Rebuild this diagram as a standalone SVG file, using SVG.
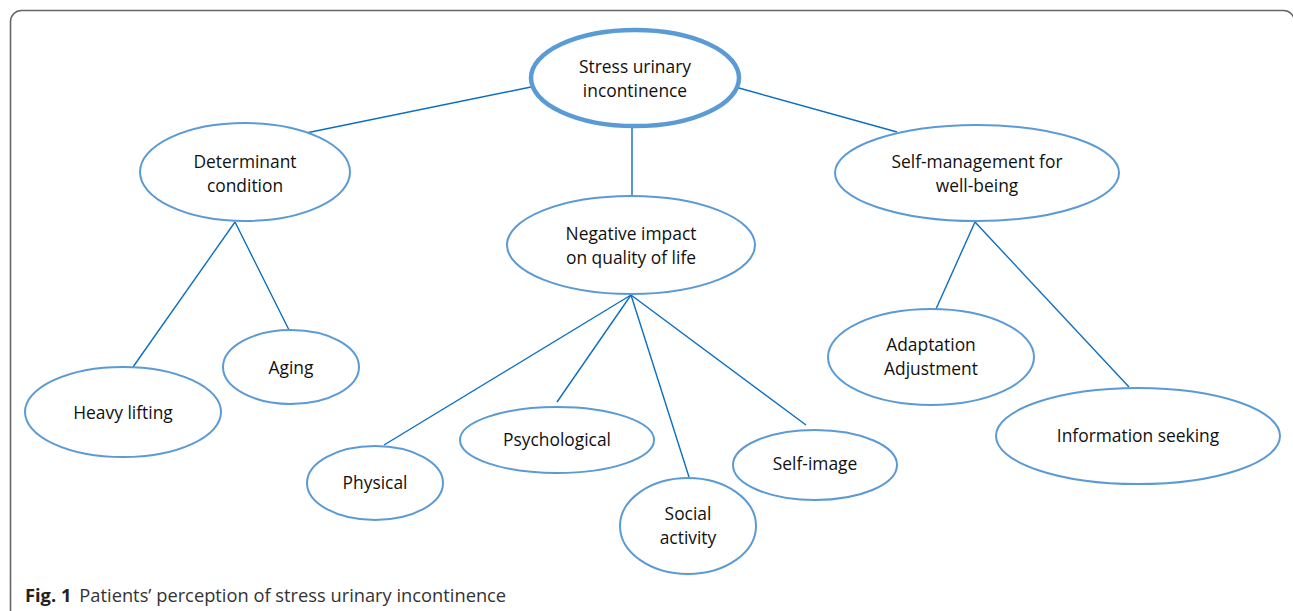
<svg xmlns="http://www.w3.org/2000/svg" width="1293" height="611" viewBox="0 0 1293 611">
<style>
.n{fill:#fff;stroke:#5b9bd5;stroke-width:2}
.root{fill:#fff;stroke:#5b9bd5;stroke-width:4.5}
.t{font-family:"Open Sans","Liberation Sans",sans-serif;font-size:17.4px;fill:#111;text-anchor:middle}
.c line{stroke:#0a6fc2;stroke-width:1.4}
.cap{font-family:"Open Sans","Liberation Sans",sans-serif;font-size:18.3px;fill:#333}
</style>
<rect x="10.5" y="10.5" width="1284" height="700" rx="11" fill="#fff" stroke="#666" stroke-width="1.6"/>
<g class="c" id="connectors">
<line x1="531" y1="87" x2="306" y2="133"/>
<line x1="632" y1="127" x2="632" y2="196"/>
<line x1="739" y1="88" x2="897" y2="132"/>
<line x1="235" y1="222" x2="133" y2="367"/>
<line x1="235" y1="222" x2="289" y2="330"/>
<line x1="631" y1="295" x2="384" y2="445"/>
<line x1="631" y1="295" x2="557" y2="402"/>
<line x1="631" y1="295" x2="689" y2="477"/>
<line x1="631" y1="295" x2="806" y2="425"/>
<line x1="975" y1="222" x2="936" y2="309"/>
<line x1="975" y1="222" x2="1129" y2="387"/>
</g>
<g id="n-sui"><ellipse class="root" cx="635" cy="78" rx="104" ry="48"/><text class="t" x="635" y="73">Stress urinary</text><text class="t" x="635" y="97">incontinence</text></g>
<g id="n-det"><ellipse class="n" cx="245" cy="172" rx="105" ry="49"/><text class="t" x="245" y="168">Determinant</text><text class="t" x="245" y="192">condition</text></g>
<g id="n-neg"><ellipse class="n" cx="631" cy="245" rx="124" ry="49"/><text class="t" x="631" y="240">Negative impact</text><text class="t" x="631" y="264">on quality of life</text></g>
<g id="n-self"><ellipse class="n" cx="977" cy="173" rx="142" ry="48"/><text class="t" x="977" y="168">Self-management for</text><text class="t" x="977" y="192">well-being</text></g>
<g id="n-heavy"><ellipse class="n" cx="123" cy="412" rx="98" ry="45"/><text class="t" x="123" y="419">Heavy lifting</text></g>
<g id="n-aging"><ellipse class="n" cx="291" cy="367" rx="68" ry="37"/><text class="t" x="291" y="374">Aging</text></g>
<g id="n-phys"><ellipse class="n" cx="375" cy="483" rx="68" ry="37"/><text class="t" x="375" y="489">Physical</text></g>
<g id="n-psych"><ellipse class="n" cx="557" cy="440" rx="97" ry="33"/><text class="t" x="557" y="446">Psychological</text></g>
<g id="n-social"><ellipse class="n" cx="688" cy="526" rx="68" ry="48"/><text class="t" x="688" y="520">Social</text><text class="t" x="688" y="544">activity</text></g>
<g id="n-img"><ellipse class="n" cx="815" cy="465" rx="82" ry="35"/><text class="t" x="815" y="470">Self-image</text></g>
<g id="n-adapt"><ellipse class="n" cx="931" cy="357" rx="103" ry="48"/><text class="t" x="931" y="351">Adaptation</text><text class="t" x="931" y="375">Adjustment</text></g>
<g id="n-info"><ellipse class="n" cx="1138" cy="436" rx="142" ry="48"/><text class="t" x="1138" y="442">Information seeking</text></g>
<text class="cap" x="25" y="602"><tspan font-weight="bold" fill="#222">Fig. 1</tspan><tspan dx="8">Patients’ perception of stress urinary incontinence</tspan></text>
</svg>
